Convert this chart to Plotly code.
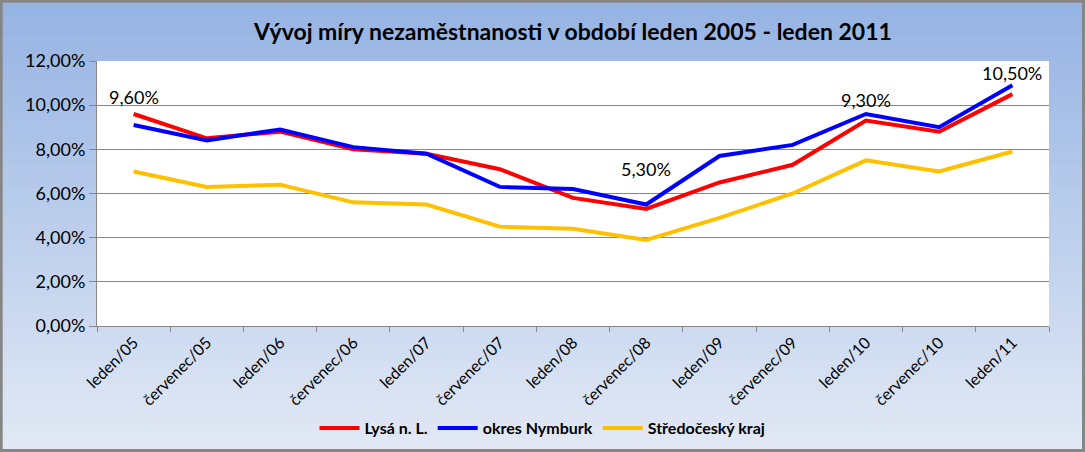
import plotly.graph_objects as go

categories = ["leden/05", "červenec/05", "leden/06", "červenec/06", "leden/07", "červenec/07",
              "leden/08", "červenec/08", "leden/09", "červenec/09", "leden/10", "červenec/10", "leden/11"]
lysa = [9.6, 8.5, 8.8, 8.0, 7.8, 7.1, 5.8, 5.3, 6.5, 7.3, 9.3, 8.8, 10.5]
nymburk = [9.1, 8.4, 8.9, 8.1, 7.8, 6.3, 6.2, 5.5, 7.7, 8.2, 9.6, 9.0, 10.9]
stredocesky = [7.0, 6.3, 6.4, 5.6, 5.5, 4.5, 4.4, 3.9, 4.9, 6.0, 7.5, 7.0, 7.9]
label_idx = [0, 7, 10, 12]
label_shift = [17, 40, 21, 21]
y_ticks = [0, 2, 4, 6, 8, 10, 12]

W, H = 1085, 452
ML, MR, MT, MB = 97, 36, 61, 126
PW, PH = W - ML - MR, H - MT - MB

FONT = "Lato"

fig = go.Figure()
series = [("Lysá n. L.", lysa, "#ff0000"),
          ("okres Nymburk", nymburk, "#0000ff"),
          ("Středočeský kraj", stredocesky, "#ffc000")]
for name, vals, col in series:
    fig.add_trace(go.Scatter(x=categories, y=[v / 100 for v in vals], name=name, mode="lines",
                             line=dict(color=col, width=4), hoverinfo="skip"))

for i, s in zip(label_idx, label_shift):
    fig.add_annotation(x=categories[i], y=lysa[i] / 100, text=f"{lysa[i]:.2f}".replace(".", ",") + "%",
                       showarrow=False, yshift=s, font=dict(family=FONT, size=18, color="#000"))

# gradient background
shapes = []
n = 60
top = (0x95, 0xb3, 0xe3)
bot = (0xe2, 0xe9, 0xf5)
x0p, x1p = -ML / PW, 1 + MR / PW
y0p, y1p = -MB / PH, 1 + MT / PH
for k in range(n):
    t = k / (n - 1)
    c = tuple(round(top[j] + (bot[j] - top[j]) * t) for j in range(3))
    ya = y1p - (y1p - y0p) * k / n
    yb = y1p - (y1p - y0p) * (k + 1) / n
    shapes.append(dict(type="rect", xref="paper", yref="paper", x0=x0p, x1=x1p, y0=yb, y1=ya + 0.002,
                       fillcolor="rgb(%d,%d,%d)" % c, line=dict(width=0), layer="below"))
shapes.append(dict(type="rect", xref="x domain", yref="y domain", x0=0, x1=1, y0=0, y1=1,
                   fillcolor="white", line=dict(width=0), layer="below"))
shapes.append(dict(type="rect", xref="paper", yref="paper", x0=x0p + 1.2 / PW, x1=x1p - 1.5 / PW,
                   y0=y0p + 1.5 / PH, y1=y1p - 1.2 / PH, fillcolor="rgba(0,0,0,0)",
                   line=dict(color="#868686", width=3), layer="above"))

fig.update_layout(
    width=W, height=H,
    margin=dict(l=ML, r=MR, t=MT, b=MB, autoexpand=False),
    paper_bgcolor="#c5d3ee", plot_bgcolor="white",
    separators=",.",
    font=dict(family=FONT, size=15, color="#000"),
    title=dict(text="<b>Vývoj míry nezaměstnanosti v období leden 2005 - leden 2011</b>",
               x=0.5, xref="paper", y=1 - 32 / H, yref="container", xanchor="center", yanchor="middle",
               font=dict(family=FONT, size=23, color="#000")),
    showlegend=True,
    legend=dict(orientation="h", x=0.5, xanchor="center", xref="container", y=(H - 428) / H, yref="container",
                yanchor="middle", font=dict(family=FONT, size=16, color="#000", weight="bold"),
                bgcolor="rgba(0,0,0,0)", itemwidth=40, tracegroupgap=0),
    shapes=shapes,
    xaxis=dict(type="category", tickangle=-45, tickson="boundaries", ticks="outside", ticklen=5,
               tickcolor="#868686", showline=True, linecolor="#868686", linewidth=1, showgrid=False,
               automargin=False, tickfont=dict(family=FONT, size=16), range=[-0.5, len(categories) - 0.5]),
    yaxis=dict(range=[0, 0.12], tickvals=[v / 100 for v in y_ticks], tickformat=".2%", ticks="outside",
               ticklen=7, tickcolor="#868686", showline=True, linecolor="#868686", linewidth=1,
               showgrid=True, gridcolor="#868686", gridwidth=1, zeroline=False, automargin=False,
               tickfont=dict(family=FONT, size=18)),
)

fig.write_html("out.html", config={"displayModeBar": False},
               post_script="document.body.style.margin='0';document.body.style.overflow='hidden';")
